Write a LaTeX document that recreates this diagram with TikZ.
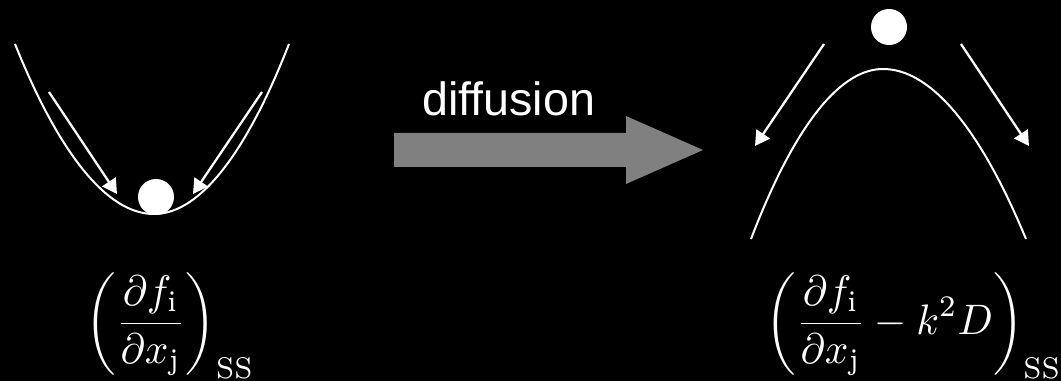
\documentclass[tikz,border=0pt]{standalone}
\usepackage{amsmath}
\usepackage{graphicx}
\usepackage{fontspec}
\newfontfamily\labelfont{Liberation Sans}
\usetikzlibrary{arrows.meta}
\definecolor{arrowgray}{HTML}{808080}
\begin{document}
\begin{tikzpicture}[x=0.75pt,y=-0.75pt,
  curve/.style={white,line width=1.5pt},
  fallarrow/.style={white,line width=1.7pt,-{Triangle[length=11pt,width=12pt]}},
  ball/.style={circle,fill=white,minimum size=27pt,inner sep=0pt},
  formula/.style={text=white,anchor=west,inner sep=0pt}]
\fill[black] (0,0) rectangle (1061,381);
\clip (0,0) rectangle (1061,381);
% left well
\draw[curve] (15,44) parabola bend (154,214) (289,44);
\node[ball] (ballL) at (156,197) {};
\coordinate (lAs) at (49,92); \coordinate (lAe) at (117,194);
\coordinate (lBs) at (262,92); \coordinate (lBe) at (193,194);
\draw[fallarrow] (lAs) -- (lAe);
\draw[fallarrow] (lBs) -- (lBe);
% big arrow
\fill[arrowgray] (394,133) -- (626,133) -- (626,116) -- (703,150) -- (626,184) -- (626,167) -- (394,167) -- cycle;
\node[font=\labelfont\fontsize{35}{40}\selectfont,text=white,anchor=base west,inner sep=0pt] (diff) at (422,116) {diffusion};
% right hill
\draw[curve] (751,239) parabola bend (883,69) (1026,239);
\node[ball] (ballR) at (889,27) {};
\coordinate (rAs) at (824,44); \coordinate (rAe) at (755,146);
\coordinate (rBs) at (961,44); \coordinate (rBe) at (1029,146);
\draw[fallarrow] (rAs) -- (rAe);
\draw[fallarrow] (rBs) -- (rBe);
% formulas
\node[formula] (fL) at (85,325.5) {\scalebox{3.1}[3.2]{$\displaystyle\left(\frac{\partial f_{\mathrm{i}}}{\partial x_{\mathrm{j}}}\right)_{\mathrm{SS}}$}};
\node[formula] (fR) at (765,325.5) {\scalebox{3.1}[3.2]{$\displaystyle\left(\frac{\partial f_{\mathrm{i}}}{\partial x_{\mathrm{j}}}-k^2D\right)_{\mathrm{SS}}$}};
\end{tikzpicture}
\end{document}
